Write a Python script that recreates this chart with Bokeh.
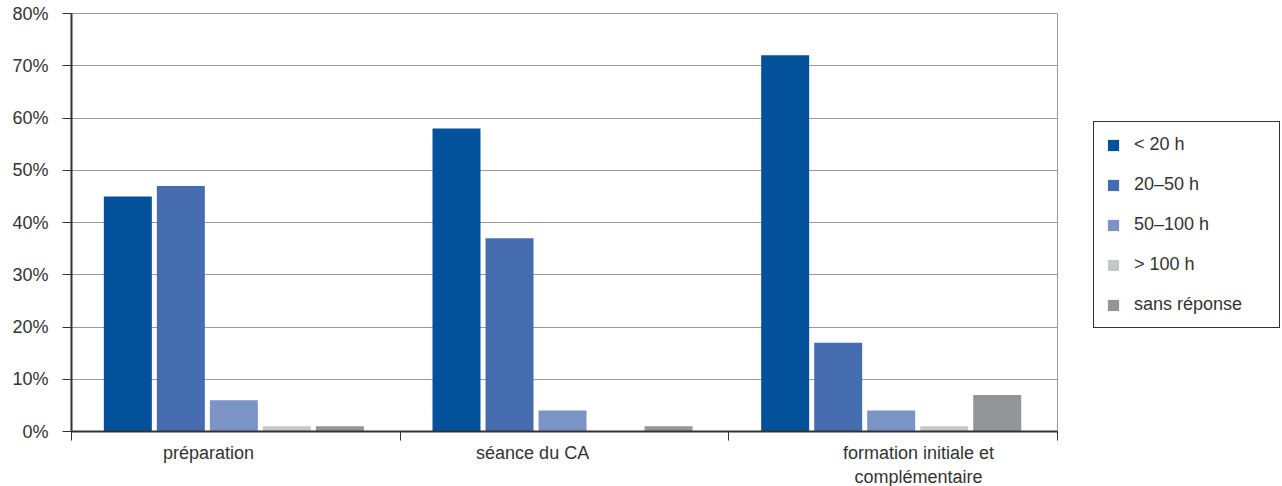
from bokeh.plotting import figure
from bokeh.models import (Range1d, FixedTicker, PrintfTickFormatter, Legend,
                          LegendItem, ColumnDataSource)
from bokeh.embed import file_html
from bokeh.resources import INLINE

# Heures consacrées par type d'activité (en % des réponses)
categories = ["préparation", "séance du CA", "formation initiale et\ncomplémentaire"]
series = ["< 20 h", "20–50 h", "50–100 h", "> 100 h", "sans réponse"]
lt20 = [45, 58, 72]
h20_50 = [47, 37, 17]
h50_100 = [6, 4, 4]
gt100 = [1, 0, 1]
sans_rep = [1, 1, 7]
values = [lt20, h20_50, h50_100, gt100, sans_rep]
colors = ["#02519a", "#446caf", "#7b93c5", "#c6c7c9", "#939598"]
y_ticks = [0, 10, 20, 30, 40, 50, 60, 70, 80]

FONT = "Liberation Sans"
TXT = "#333333"

p = figure(frame_width=986, frame_height=418, output_backend="svg",
           toolbar_location=None,
           x_range=Range1d(0, 3), y_range=Range1d(0, 80),
           min_border_left=71, min_border_right=0, min_border_top=13,
           min_border_bottom=0)
p.background_fill_color = "white"
p.border_fill_color = "white"
p.outline_line_color = "#9a9a9a"
p.outline_line_width = 1

# five bars per group, clustered slightly left of each group's centre
center = 0.494
step = 0.1613
bar_w = 0.146
renderers = []
for j, (name, vals, col) in enumerate(zip(series, values, colors)):
    xs = [i + center + (j - 2) * step for i in range(len(categories))]
    src = ColumnDataSource(dict(x=xs, top=vals))
    r = p.vbar(x="x", top="top", width=bar_w, bottom=0, source=src,
               fill_color=col, line_color=None)
    renderers.append((name, r))

# grid
p.xgrid.visible = False
p.ygrid.ticker = FixedTicker(ticks=y_ticks)
p.ygrid.grid_line_color = "#9a9a9a"
p.ygrid.grid_line_width = 1

# y axis
ya = p.yaxis[0]
ya.ticker = FixedTicker(ticks=y_ticks)
ya.formatter = PrintfTickFormatter(format="%d%%")
ya.axis_line_color = "#333333"
ya.axis_line_width = 2
ya.major_tick_line_color = "#333333"
ya.major_tick_out = 9
ya.major_tick_in = 0
ya.minor_tick_line_color = None
ya.major_label_standoff = 14
ya.major_label_text_font = FONT
ya.major_label_text_font_size = "18px"
ya.major_label_text_color = TXT

# x axis: group separators as minor ticks, labels as major ticks
label_pos = [0.417, 1.403, 2.577]
xa = p.xaxis[0]
xa.ticker = FixedTicker(ticks=label_pos, minor_ticks=[0, 1, 2, 3])
xa.major_label_overrides = {pos: lab for pos, lab in zip(label_pos, categories)}
xa.axis_line_color = "#333333"
xa.axis_line_width = 2
xa.major_tick_line_color = None
xa.minor_tick_line_color = "#333333"
xa.minor_tick_out = 9
xa.minor_tick_in = 0
xa.major_label_standoff = 2
xa.major_label_text_font = FONT
xa.major_label_text_font_size = "18px"
xa.major_label_text_color = TXT
xa.major_label_text_line_height = 1.2

legend = Legend(items=[LegendItem(label=n, renderers=[r]) for n, r in renderers],
                location=(36, 103))
legend.label_text_font = FONT
legend.label_text_font_size = "18px"
legend.label_text_color = TXT
legend.glyph_width = 14
legend.glyph_height = 14
legend.label_height = 20
legend.spacing = 19
legend.padding = 12
legend.label_standoff = 14
legend.label_width = 133
legend.border_line_color = "#333333"
legend.border_line_width = 1
legend.border_line_alpha = 1
legend.background_fill_color = "white"
legend.background_fill_alpha = 1
legend.margin = 0
p.add_layout(legend, "right")

open("out.html", "w").write(file_html(p, INLINE))
